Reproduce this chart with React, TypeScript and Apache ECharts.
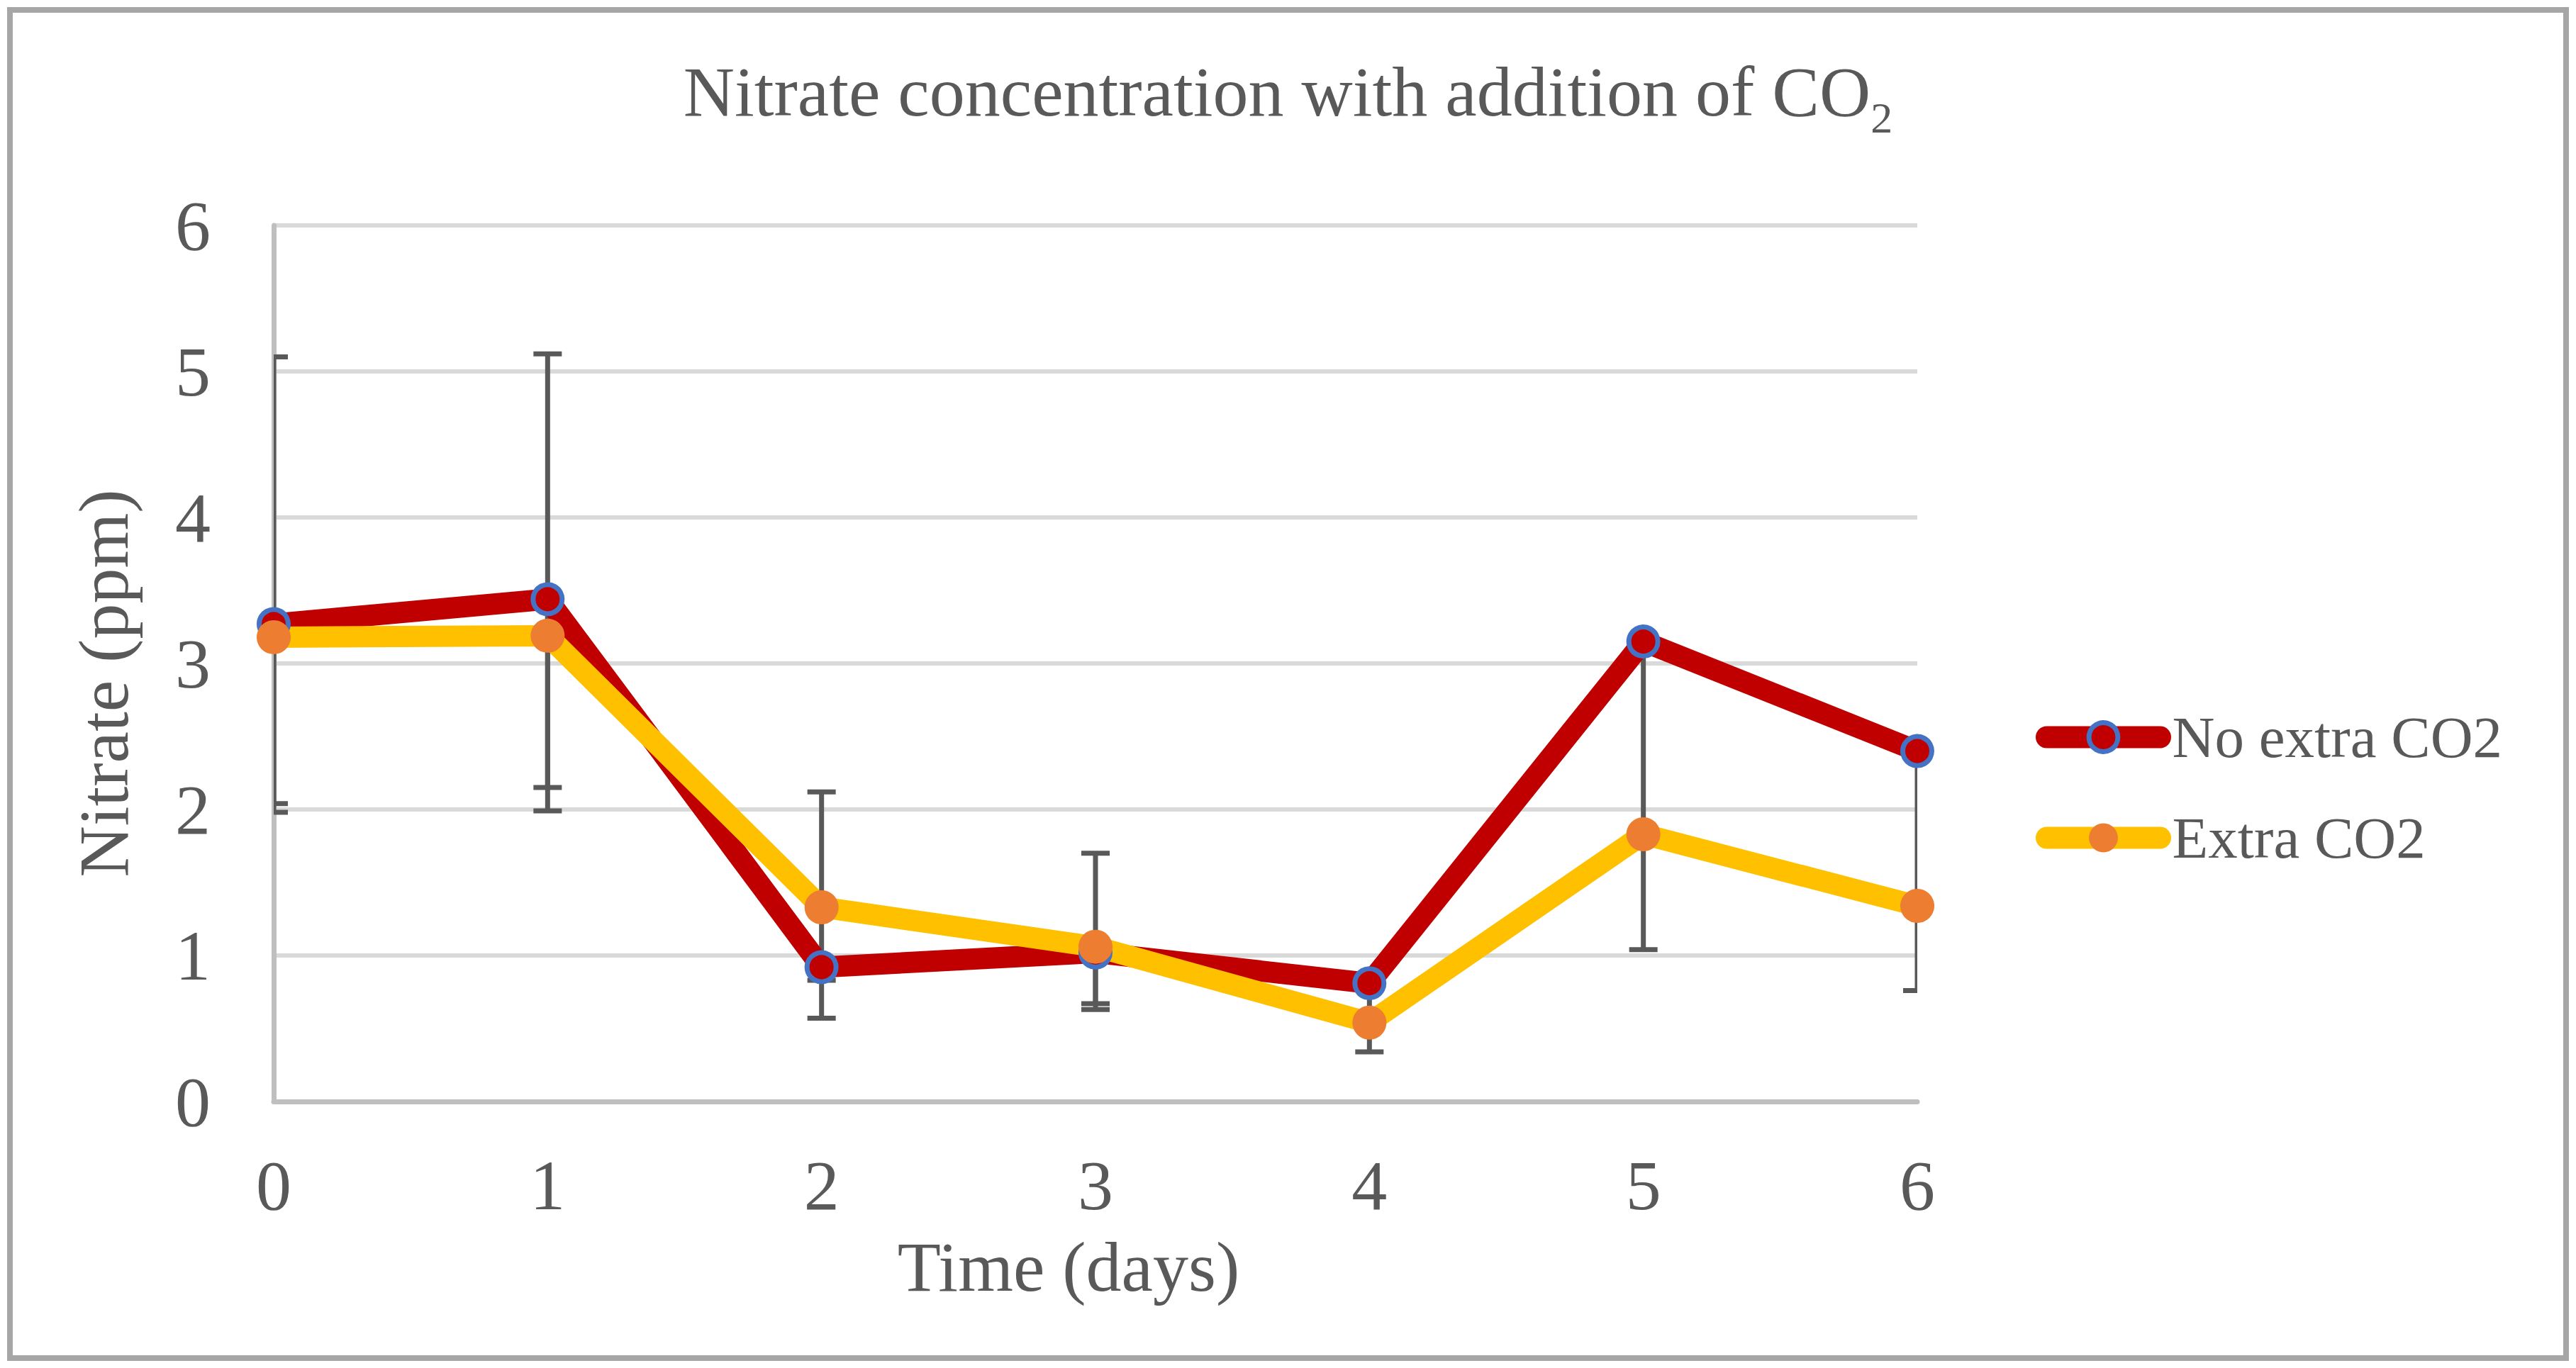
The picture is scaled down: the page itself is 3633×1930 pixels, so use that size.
import React, { useEffect, useRef } from "react";
import * as echarts from "echarts";

// ---- data ----
const days = [0, 1, 2, 3, 4, 5, 6];
const noExtraCO2 = [3.27, 3.44, 0.92, 1.02, 0.81, 3.15, 2.4];
const extraCO2 = [3.18, 3.19, 1.33, 1.06, 0.54, 1.83, 1.34];
// error bars: lower ends for "No extra CO2" (minus-only bars, upper end at the mean)
const noExtraLow = [1.98, 1.99, 0.83, 0.63, 0.34, 1.04, 0.76];
// error bars for "Extra CO2" (lower / upper ends; null = none visible)
const extraLow: (number | null)[] = [2.04, 2.15, 0.57, 0.67, null, null, null];
const extraHigh: (number | null)[] = [5.1, 5.12, 2.12, 1.7, null, null, null];

const seriesNames = ["No extra CO2", "Extra CO2"];
const titleMain = "Nitrate concentration with addition of CO";
const titleSub = "2";
const xName = "Time (days)";
const yName = "Nitrate (ppm)";

const FONT = "'Liberation Serif', 'Times New Roman', serif";
const TXT = "#595959";

const renderErr = (params: any, api: any) => {
  const x = api.value(0);
  const lo = api.value(1);
  const hi = api.value(2);
  const p1 = api.coord([x, lo]);
  const p2 = api.coord([x, hi]);
  const cap = 20;
  const style = { stroke: "#595959", lineWidth: 7, fill: null, lineCap: "butt" };
  return {
    type: "group",
    children: [
      { type: "line", shape: { x1: p1[0], y1: p1[1], x2: p2[0], y2: p2[1] }, style },
      { type: "line", shape: { x1: p1[0] - cap, y1: p1[1], x2: p1[0] + cap, y2: p1[1] }, style },
      { type: "line", shape: { x1: p2[0] - cap, y1: p2[1], x2: p2[0] + cap, y2: p2[1] }, style },
    ],
  };
};

export default function App() {
  const ref = useRef<HTMLDivElement>(null);
  useEffect(() => {
    if (!ref.current) return;
    const chart = echarts.init(ref.current, null, { renderer: "svg" });
    const noExtraErr = days.map((d, i) => [d, noExtraLow[i], noExtraCO2[i]]);
    const extraErr = days
      .map((d, i) => [d, extraLow[i], extraHigh[i]])
      .filter((r) => r[1] !== null && r[2] !== null);
    chart.setOption({
      animation: false,
      backgroundColor: "#ffffff",
      title: {
        text: `{m|${titleMain}}{s|${titleSub}}`,
        left: "center",
        top: 79,
        padding: 0,
        textStyle: {
          fontWeight: "normal",
          rich: {
            m: { fontFamily: FONT, fontSize: 100, lineHeight: 100, color: TXT, fontWeight: "normal", verticalAlign: "top" },
            s: { fontFamily: FONT, fontSize: 62, lineHeight: 118, color: TXT, fontWeight: "normal", verticalAlign: "bottom" },
          },
        },
      },
      legend: {
        orient: "vertical",
        left: 2871,
        top: 995,
        padding: 0,
        itemWidth: 160,
        itemHeight: 51,
        itemGap: 52,
        textStyle: { fontFamily: FONT, fontSize: 83, lineHeight: 90, color: TXT, padding: [0, 0, 0, 12] },
        data: [
          {
            name: seriesNames[0],
            itemStyle: { color: "#C00000", borderColor: "#4472C4", borderWidth: 7 },
            lineStyle: { color: "#C00000", width: 31, cap: "round" },
          },
          {
            name: seriesNames[1],
            itemStyle: { color: "#ED7D31", borderWidth: 0 },
            lineStyle: { color: "#FFC000", width: 31, cap: "round" },
          },
        ],
      },
      grid: { left: 386, right: 929, top: 318, bottom: 376, containLabel: false, outerBoundsMode: "none" },
      xAxis: {
        type: "value",
        min: 0,
        max: 6,
        interval: 1,
        name: xName,
        nameLocation: "middle",
        nameGap: 183,
        nameTextStyle: { fontFamily: FONT, fontSize: 100, lineHeight: 100, color: TXT, padding: [0, 76, 0, 0] },
        axisLine: { show: true, onZero: false, lineStyle: { color: "#BFBFBF", width: 7 } },
        axisTick: { show: false },
        splitLine: { show: false },
        axisLabel: { fontFamily: FONT, fontSize: 100, lineHeight: 100, color: TXT, margin: 68 },
      },
      yAxis: {
        type: "value",
        min: 0,
        max: 6,
        interval: 1,
        name: yName,
        nameLocation: "middle",
        nameRotate: 90,
        nameGap: 190,
        nameTextStyle: { fontFamily: FONT, fontSize: 100, lineHeight: 100, color: TXT, padding: [0, 56, 0, 0] },
        axisLine: { show: true, lineStyle: { color: "#BFBFBF", width: 7 } },
        axisTick: { show: false },
        splitLine: { show: true, lineStyle: { color: "#D9D9D9", width: 6 } },
        axisLabel: { fontFamily: FONT, fontSize: 100, lineHeight: 100, color: TXT, margin: 89 },
      },
      graphic: [
        {
          type: "rect",
          silent: true,
          shape: { x: 14, y: 14, width: 3605, height: 1902 },
          style: { fill: "none", stroke: "#A6A6A6", lineWidth: 8 },
        },
      ],
      series: [
        {
          name: "err-no",
          type: "custom",
          renderItem: renderErr,
          data: noExtraErr,
          encode: { x: 0, y: [1, 2] },
          clip: true,
          z: 1,
          silent: true,
        },
        {
          name: "err-extra",
          type: "custom",
          renderItem: renderErr,
          data: extraErr,
          encode: { x: 0, y: [1, 2] },
          clip: true,
          z: 1,
          silent: true,
        },
        {
          name: seriesNames[0],
          type: "line",
          data: days.map((d, i) => [d, noExtraCO2[i]]),
          symbol: "circle",
          symbolSize: 41,
          showSymbol: true,
          lineStyle: { color: "#C00000", width: 30 },
          itemStyle: { color: "#C00000", borderColor: "#4472C4", borderWidth: 7 },
          z: 3,
        },
        {
          name: seriesNames[1],
          type: "line",
          data: days.map((d, i) => [d, extraCO2[i]]),
          symbol: "circle",
          symbolSize: 48,
          showSymbol: true,
          lineStyle: { color: "#FFC000", width: 30 },
          itemStyle: { color: "#ED7D31", borderWidth: 0 },
          z: 3,
        },
      ],
    });
    return () => chart.dispose();
  }, []);
  return (
    <div
      ref={ref}
      style={{ position: "absolute", left: 0, top: 0, width: "3633px", height: "1930px" }}
    />
  );
}
